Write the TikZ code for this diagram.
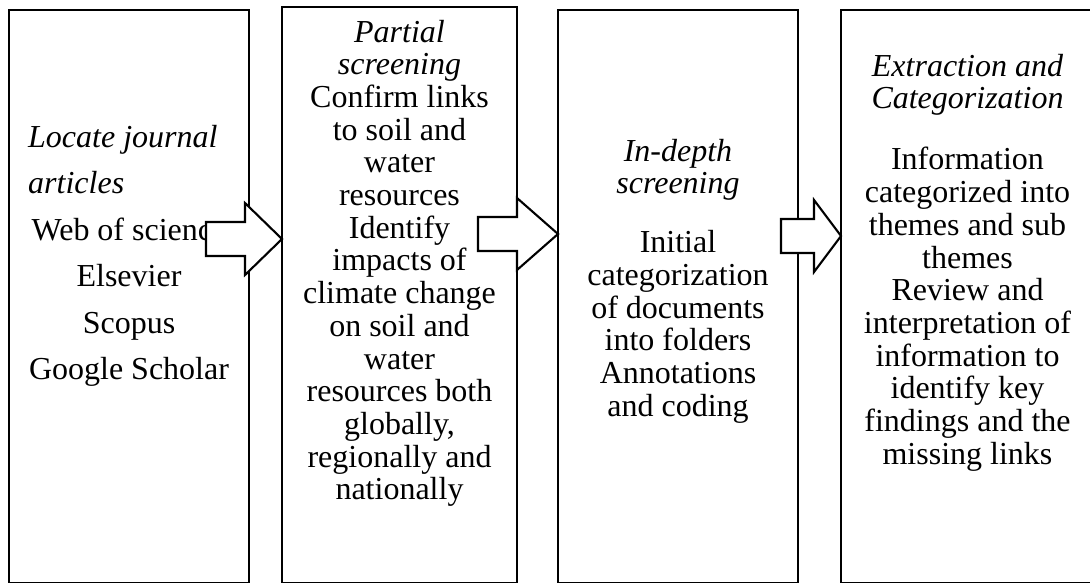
\documentclass[tikz,border=0pt]{standalone}
\usepackage{fontspec}
\setmainfont{Liberation Serif}
\usetikzlibrary{calc}

% block arrow from a tail x to the west side of a target node, centred on y
\newcommand\blockarrow[4]{% #1 tail x, #2 head base x, #3 target node, #4 mid y
  \draw[flow] (#1,#4-17) -- (#2,#4-17) -- (#2,#4-36) -- (#3.west |- 0,#4)
    -- (#2,#4+36) -- (#2,#4+17) -- (#1,#4+17) -- cycle;}

\begin{document}
\begin{tikzpicture}[x=1pt,y=-1pt,
  stage/.style={draw, line width=2.1pt, anchor=north west, inner sep=0pt, outer sep=0pt},
  txt/.style={font=\fontsize{32}{32.7}\selectfont, align=center, anchor=base, inner sep=0pt},
  wide/.style={font=\fontsize{32}{46.5}\selectfont},
  flow/.style={draw, fill=white, line width=2.1pt, line join=miter}]
\useasboundingbox (0,0) rectangle (1090,583);
\clip (0,0) rectangle (1090,583);

% the four stages
\node[stage, minimum width=240pt, minimum height=573pt] (b1) at (9,10) {};
\node[stage, minimum width=235pt, minimum height=576pt] (b2) at (282,7) {};
\node[stage, minimum width=240pt, minimum height=573pt] (b3) at (558,10) {};
\node[stage, minimum width=253pt, minimum height=573pt] (b4) at (841,10) {};

% stage 1 (a node's base is the baseline of its last line)
\node[txt, wide, align=left, anchor=base west] (h1) at (28,193.5)
  {\itshape Locate journal\\\itshape articles};
\node[txt, wide] (t1) at (129,379.5)
  {Web of science\\Elsevier\\Scopus\\Google Scholar};

% stage 2
\node[txt] (t2) at (399.5,499.8)
  {\textit{Partial}\\\textit{screening}\\Confirm links\\to soil and\\water\\resources\\Identify\\impacts of\\climate change\\on soil and\\water\\resources both\\globally,\\regionally and\\nationally};

% stage 3
\node[txt] (t3) at (678,416.3)
  {\textit{In-depth}\\\textit{screening}\\[26.4pt]Initial\\categorization\\of documents\\into folders\\Annotations\\and coding};

% stage 4
\node[txt] (t4) at (967.5,464.2)
  {\textit{Extraction and}\\\textit{Categorization}\\[28.5pt]Information\\categorized into\\themes and sub\\themes\\Review and\\interpretation of\\information to\\identify key\\findings and the\\missing links};

% flow between the stages
\blockarrow{206}{245}{b2}{239}
\blockarrow{478}{517}{b3}{234}
\blockarrow{781}{814}{b4}{236}
\end{tikzpicture}
\end{document}
